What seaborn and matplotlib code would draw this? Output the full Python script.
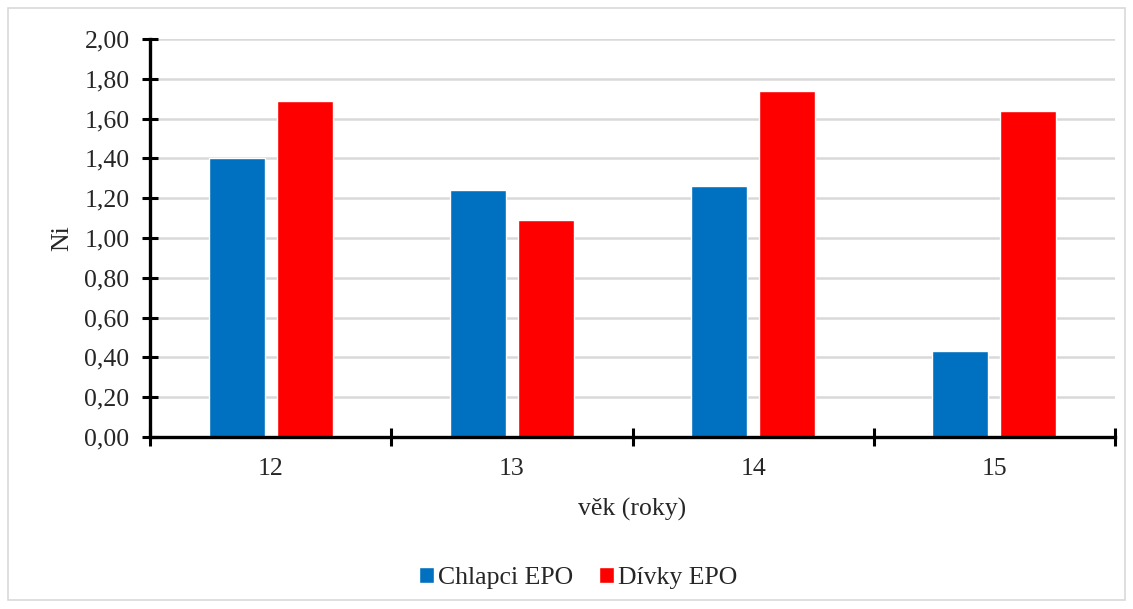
import matplotlib
matplotlib.use("Agg")
import matplotlib.pyplot as plt
import matplotlib.ticker as mticker
from matplotlib.patches import Rectangle
import seaborn as sns
import pandas as pd

ages = ["12", "13", "14", "15"]
boys = [1.40, 1.24, 1.26, 0.43]
girls = [1.69, 1.09, 1.74, 1.64]
series_names = ["Chlapci EPO", "Dívky EPO"]
colors = ["#0070C0", "#FF0000"]

df = pd.DataFrame({
    "věk": ages * 2,
    "Ni": boys + girls,
    "skupina": [series_names[0]] * len(ages) + [series_names[1]] * len(ages),
})

sns.set_style("white")
plt.rcParams["font.family"] = ["Liberation Serif", "DejaVu Serif"]

fig = plt.figure(figsize=(11.33, 6.09), dpi=100)
ax = fig.add_axes([150 / 1133, 1 - 437 / 609, (1115 - 150) / 1133, (437 - 39) / 609])

sns.barplot(data=df, x="věk", y="Ni", hue="skupina", order=ages,
            hue_order=series_names, palette=colors, width=0.564, gap=0.176,
            saturation=1, ax=ax, legend=True)

ax.set_xlim(-0.5, len(ages) - 0.5)
ax.set_ylim(0, 2.0)
ax.yaxis.set_major_locator(mticker.MultipleLocator(0.2))
ax.yaxis.set_major_formatter(mticker.FuncFormatter(lambda v, p: f"{v:.2f}".replace(".", ",")))
ax.grid(axis="y", color="#d9d9d9", linewidth=1.8)
ax.set_axisbelow(True)

for side in ["top", "right"]:
    ax.spines[side].set_visible(False)
for side in ["left", "bottom"]:
    ax.spines[side].set_color("black")
    ax.spines[side].set_linewidth(2.4)

ax.tick_params(axis="y", which="major", left=True, direction="inout", length=11.5,
               width=2.2, color="black", labelsize=18.5, pad=9)
ax.tick_params(axis="x", which="major", bottom=True, length=0, labelsize=18.5, pad=15)
ax.xaxis.set_minor_locator(mticker.FixedLocator([i - 0.5 for i in range(len(ages) + 1)]))
ax.tick_params(axis="x", which="minor", bottom=True, direction="inout", length=13,
               width=2.2, color="black")

ax.set_xlabel("věk (roky)", fontsize=18.5, labelpad=13)
ax.set_ylabel("Ni", fontsize=18.5, labelpad=8)

ax.legend(loc="center", bbox_to_anchor=(578 / 1133, 1 - 578 / 609),
          bbox_transform=fig.transFigure, ncol=2, frameon=False,
          fontsize=18.5, handlelength=0.6, handleheight=0.6, handletextpad=0.15,
          columnspacing=1.0)

fig.patches.append(Rectangle((8 / 1133, 1 - 600 / 609), 1117 / 1133, 592 / 609,
                             transform=fig.transFigure, fill=False,
                             edgecolor="#d9d9d9", linewidth=1.2))

fig.savefig("out.png", dpi=100, facecolor="white")
